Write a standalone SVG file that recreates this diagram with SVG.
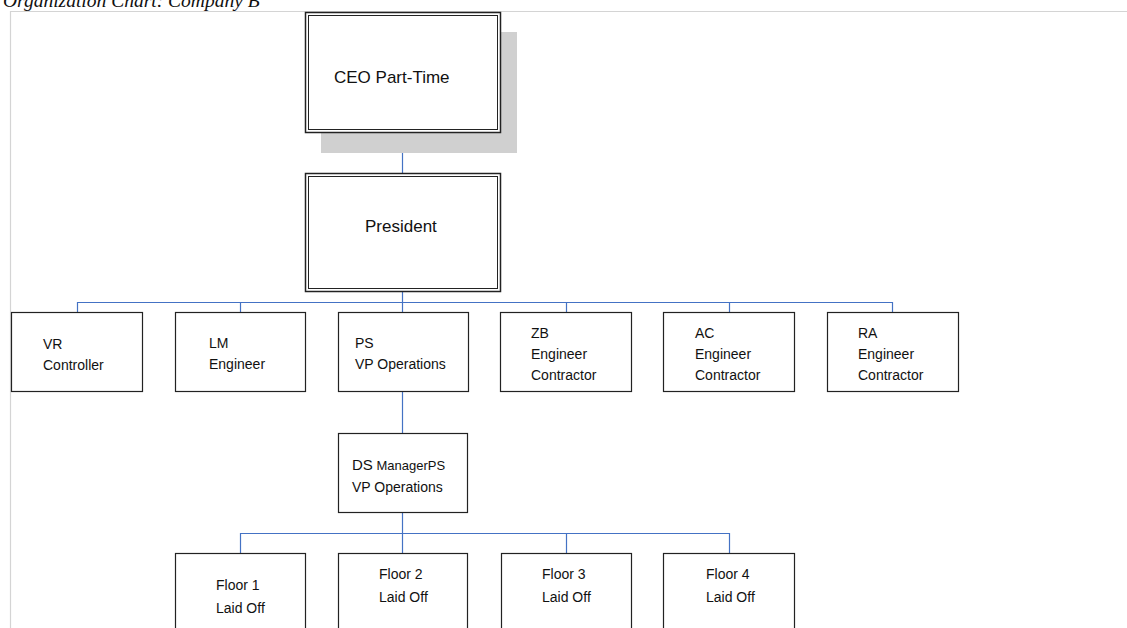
<svg xmlns="http://www.w3.org/2000/svg" width="1127" height="628" viewBox="0 0 1127 628">
<style>
.box{fill:#fff;stroke:#222;stroke-width:1.2}
.outer{fill:#fff;stroke:#222;stroke-width:1.5}
.inner{fill:none;stroke:#222;stroke-width:1}
.t{font-family:"Liberation Sans",Arial,sans-serif;font-size:14px;fill:#111}
.big{font-family:"Liberation Sans",Arial,sans-serif;font-size:17px;fill:#111}
.conn{stroke:#4472c4;stroke-width:1.2;fill:none}
</style>
<rect width="1127" height="628" fill="#fff"/>
<text x="3" y="7" font-family="Liberation Serif,serif" font-style="italic" font-size="19.5" fill="#111">Organization Chart: Company B</text>
<path d="M10.5 628V11.5H1127" fill="none" stroke="#d4d4d4" stroke-width="1.2"/>
<g id="connectors">
<path class="conn" d="M402.5 133V173"/>
<path class="conn" d="M402.5 292V312"/>
<path class="conn" d="M77.5 312V302.5H892.5V312"/>
<path class="conn" d="M240.5 302.5V312M566.5 302.5V312M729.5 302.5V312"/>
<path class="conn" d="M402.5 392V433"/>
<path class="conn" d="M402.5 513V553"/>
<path class="conn" d="M240.5 553V533.5H729.5V553"/>
<path class="conn" d="M566.5 533.5V553"/>
</g>
<g id="ceo">
<rect x="321" y="32" width="196" height="121" fill="#d0d0d0"/>
<rect class="outer" x="305.5" y="12.5" width="195" height="120"/>
<rect class="inner" x="308.5" y="15.5" width="189" height="114"/>
<text class="big" x="334" y="83" font-size="17.5">CEO Part-Time</text>
</g>
<g id="president">
<rect class="outer" x="305.5" y="173.5" width="195" height="118"/>
<rect class="inner" x="308.5" y="176.5" width="189" height="112"/>
<text class="big" x="365" y="232" font-size="18.5">President</text>
</g>
<g id="vr"><rect class="box" x="11.5" y="312.5" width="131" height="79"/><text class="t" x="43" y="349">VR</text><text class="t" x="43" y="370">Controller</text></g>
<g id="lm"><rect class="box" x="175.5" y="312.5" width="130" height="79"/><text class="t" x="209" y="348">LM</text><text class="t" x="209" y="369">Engineer</text></g>
<g id="ps"><rect class="box" x="338.5" y="312.5" width="130" height="79"/><text class="t" x="355" y="348">PS</text><text class="t" x="355" y="369" font-size="13">VP Operations</text></g>
<g id="zb"><rect class="box" x="500.5" y="312.5" width="131" height="79"/><text class="t" x="531" y="338">ZB</text><text class="t" x="531" y="359">Engineer</text><text class="t" x="531" y="380">Contractor</text></g>
<g id="ac"><rect class="box" x="663.5" y="312.5" width="131" height="79"/><text class="t" x="695" y="338">AC</text><text class="t" x="695" y="359">Engineer</text><text class="t" x="695" y="380">Contractor</text></g>
<g id="ra"><rect class="box" x="827.5" y="312.5" width="131" height="79"/><text class="t" x="858" y="338">RA</text><text class="t" x="858" y="359">Engineer</text><text class="t" x="858" y="380">Contractor</text></g>
<g id="ds"><rect class="box" x="338.5" y="433.5" width="129" height="79"/><text class="t" x="352" y="470"><tspan font-size="15">DS</tspan><tspan font-size="13"> ManagerPS</tspan></text><text class="t" x="352" y="492" font-size="13.5">VP Operations</text></g>
<g id="floor1"><rect class="box" x="175.5" y="553.5" width="130" height="90"/><text class="t" x="216" y="590">Floor 1</text><text class="t" x="216" y="613">Laid Off</text></g>
<g id="floor2"><rect class="box" x="338.5" y="553.5" width="129" height="90"/><text class="t" x="379" y="579">Floor 2</text><text class="t" x="379" y="602">Laid Off</text></g>
<g id="floor3"><rect class="box" x="501.5" y="553.5" width="130" height="90"/><text class="t" x="542" y="579">Floor 3</text><text class="t" x="542" y="602">Laid Off</text></g>
<g id="floor4"><rect class="box" x="663.5" y="553.5" width="131" height="90"/><text class="t" x="706" y="579">Floor 4</text><text class="t" x="706" y="602">Laid Off</text></g>
</svg>
